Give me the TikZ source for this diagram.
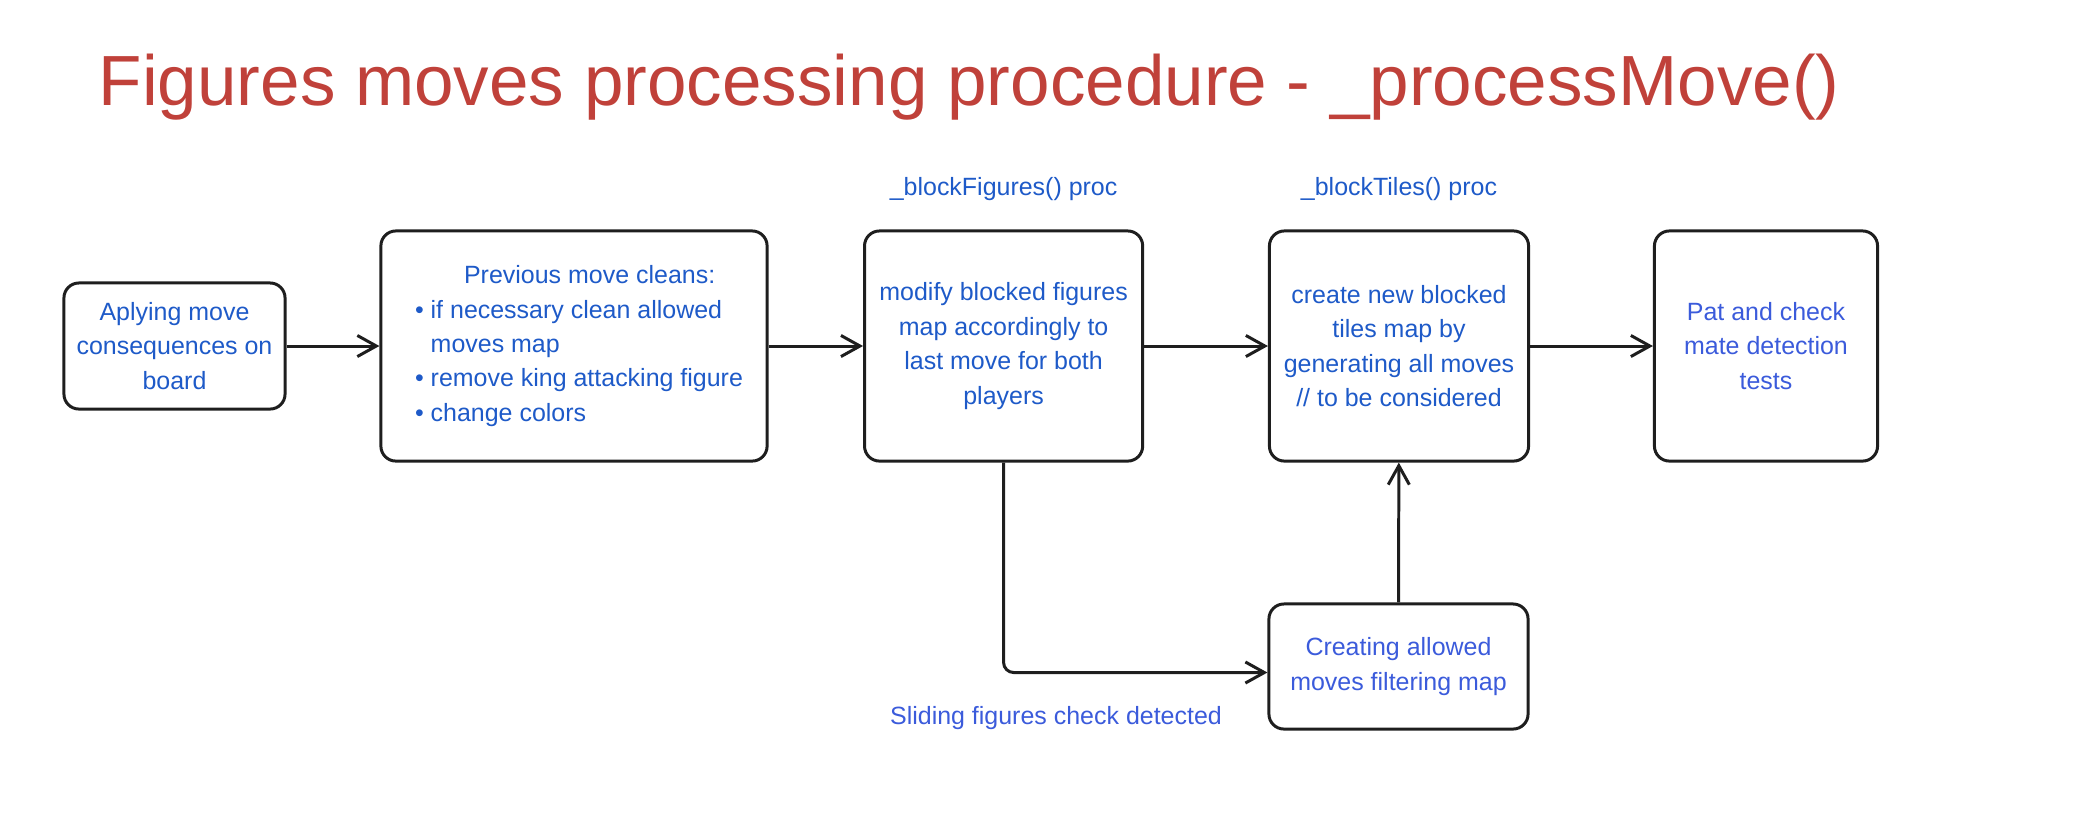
\documentclass[tikz,border=0pt]{standalone}
\usepackage{fontspec}
\setmainfont{Liberation Sans}
\usetikzlibrary{arrows.meta,positioning}

\definecolor{titlered}{RGB}{192,65,58}
\definecolor{procblue}{RGB}{30,90,200}
\definecolor{noteblue}{RGB}{59,91,219}
\definecolor{inkgray}{RGB}{30,30,30}

\begin{document}
\begin{tikzpicture}[x = 0.01cm,
  y = -0.01cm,
  stage/.style = {draw=inkgray, line width=0.85pt, rounded corners=0.15cm,
    align=center, inner sep=2pt, text=procblue,
    font=\fontsize{7.1}{9.8}\selectfont},
  note/.style = {inner sep=0pt, text=noteblue,
    font=\fontsize{7.1}{9.8}\selectfont},
  flow/.style = {draw=inkgray, line width=0.85pt,
    -{Straight Barb[length=5.4pt, width=6pt]}}]

  % page frame
  \useasboundingbox (0,0) rectangle (2087,838);

  % indent of the bullet list
  \def\ind{\hspace*{0.1cm}}

  % title
  \node[anchor=base west, inner sep=0pt, text=titlered,
    font=\fontsize{20.2}{24}\selectfont] (title) at (98,105)
    {Figures moves processing procedure - \_processMove()};

  % stages of the move
  \node[stage, minimum width=2.21cm, minimum height=1.26cm] (apply) at (174.5,346)
    {Aplying move\\consequences on\\board};
  \node[stage, minimum width=3.86cm, minimum height=2.30cm, align=left] (clean) at (574,346)
    {\hspace*{0.59cm}Previous move cleans:\\
     \ind•\ if necessary clean allowed\\
     \ind\hphantom{•\ }moves map\\
     \ind•\ remove king attacking figure\\
     \ind•\ change colors};
  \node[stage, minimum width=2.78cm, minimum height=2.30cm] (block) at (1003.6,346)
    {modify blocked figures\\map accordingly to\\last move for both\\players};
  \node[stage, minimum width=2.59cm, minimum height=2.30cm] (tiles) at (1399,346)
    {create new blocked\\tiles map by\\generating all moves\\// to be considered};
  \node[stage, minimum width=2.23cm, minimum height=2.30cm, text=noteblue] (mate) at (1766,346)
    {Pat and check\\mate detection\\tests};
  \node[stage, minimum width=2.59cm, minimum height=1.25cm, text=noteblue] (filter) at (1398.5,666.5)
    {Creating allowed\\moves filtering map};

  % proc labels
  \node[note, text=procblue, above=0.28cm of block] (blocklbl) {\_blockFigures() proc};
  \node[note, text=procblue, above=0.28cm of tiles] (tileslbl) {\_blockTiles() proc};
  \node[note] (slidelbl) at (1056,718) {Sliding figures check detected};

  % arrows
  \draw[flow] (apply) -- (clean);
  \draw[flow] (clean) -- (block);
  \draw[flow] (block) -- (tiles);
  \draw[flow] (tiles) -- (mate);
  \draw[flow, rounded corners=0.1cm] (block.south) |- ([yshift=-0.06cm]filter.west);
  \draw[flow] (filter) -- (tiles);

\end{tikzpicture}
\end{document}
